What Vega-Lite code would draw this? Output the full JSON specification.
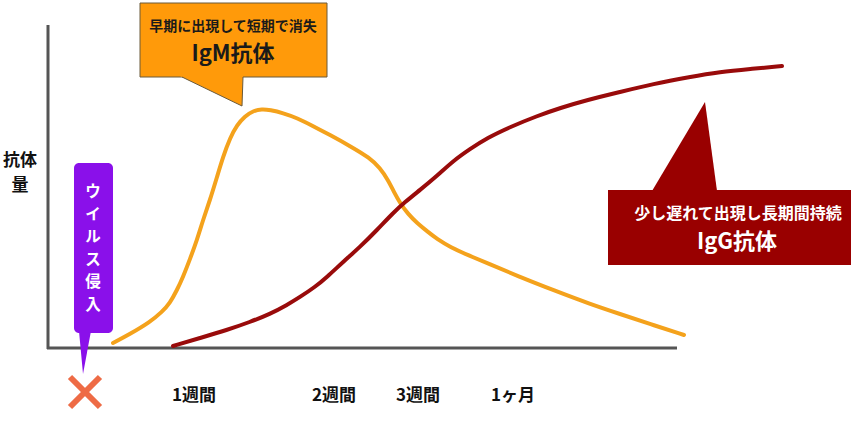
{
  "$schema": "https://vega.github.io/schema/vega-lite/v6.json",
  "width": 864,
  "height": 422,
  "autosize": {"type": "fit", "contains": "padding"},
  "padding": 0,
  "background": "white",
  "config": {"view": {"stroke": null}},
  "datasets": {
    "axes": [
      {"x1": 48, "y1": 25, "x2": 48, "y2": 349},
      {"x1": 47, "y1": 348, "x2": 677, "y2": 348}
    ],
    "igm": [
      {"x": 113, "y": 343}, {"x": 130, "y": 334}, {"x": 150, "y": 322}, {"x": 162, "y": 312},
      {"x": 170, "y": 303}, {"x": 177, "y": 290}, {"x": 183, "y": 277}, {"x": 190, "y": 259},
      {"x": 197, "y": 240}, {"x": 203, "y": 220}, {"x": 210, "y": 200}, {"x": 217, "y": 177},
      {"x": 223, "y": 157}, {"x": 230, "y": 138}, {"x": 237, "y": 125}, {"x": 245, "y": 116},
      {"x": 253, "y": 111}, {"x": 262, "y": 109}, {"x": 270, "y": 110}, {"x": 283, "y": 113},
      {"x": 297, "y": 118}, {"x": 313, "y": 126}, {"x": 330, "y": 135}, {"x": 350, "y": 146},
      {"x": 370, "y": 158}, {"x": 380, "y": 168}, {"x": 388, "y": 180}, {"x": 394, "y": 192},
      {"x": 400, "y": 203}, {"x": 408, "y": 214}, {"x": 417, "y": 223}, {"x": 428, "y": 232},
      {"x": 437, "y": 239}, {"x": 450, "y": 247}, {"x": 470, "y": 256}, {"x": 487, "y": 263},
      {"x": 520, "y": 277}, {"x": 553, "y": 290}, {"x": 590, "y": 304}, {"x": 620, "y": 314},
      {"x": 650, "y": 324}, {"x": 684, "y": 335}
    ],
    "igg": [
      {"x": 173, "y": 346}, {"x": 200, "y": 338}, {"x": 227, "y": 330}, {"x": 250, "y": 322},
      {"x": 270, "y": 314}, {"x": 287, "y": 305}, {"x": 300, "y": 297}, {"x": 315, "y": 287},
      {"x": 327, "y": 277}, {"x": 343, "y": 262}, {"x": 360, "y": 247}, {"x": 377, "y": 230},
      {"x": 393, "y": 213}, {"x": 405, "y": 202}, {"x": 420, "y": 190}, {"x": 437, "y": 176},
      {"x": 453, "y": 161}, {"x": 470, "y": 149}, {"x": 487, "y": 138}, {"x": 510, "y": 127},
      {"x": 537, "y": 116}, {"x": 560, "y": 108}, {"x": 587, "y": 100}, {"x": 620, "y": 92},
      {"x": 653, "y": 84}, {"x": 690, "y": 77}, {"x": 720, "y": 72}, {"x": 750, "y": 69},
      {"x": 782, "y": 66}
    ]
  },
  "layer": [
    {
      "data": {"name": "axes"},
      "mark": {"type": "rule", "color": "#555555", "strokeWidth": 3},
      "encoding": {
        "x": {"field": "x1", "type": "quantitative", "scale": {"domain": [0, 864], "nice": false, "zero": false}, "axis": null},
        "x2": {"field": "x2"},
        "y": {"field": "y1", "type": "quantitative", "scale": {"domain": [0, 422], "nice": false, "zero": false, "reverse": true}, "axis": null},
        "y2": {"field": "y2"}
      }
    },
    {
      "data": {"name": "igm"},
      "mark": {"type": "line", "color": "#F4A21C", "strokeWidth": 4, "interpolate": "basis", "strokeCap": "round"},
      "encoding": {
        "x": {"field": "x", "type": "quantitative", "scale": {"domain": [0, 864], "nice": false, "zero": false}, "axis": null},
        "y": {"field": "y", "type": "quantitative", "scale": {"domain": [0, 422], "nice": false, "zero": false, "reverse": true}, "axis": null}
      }
    },
    {
      "data": {"name": "igg"},
      "mark": {"type": "line", "color": "#990B0B", "strokeWidth": 4, "interpolate": "basis", "strokeCap": "round"},
      "encoding": {
        "x": {"field": "x", "type": "quantitative", "scale": {"domain": [0, 864], "nice": false, "zero": false}, "axis": null},
        "y": {"field": "y", "type": "quantitative", "scale": {"domain": [0, 422], "nice": false, "zero": false, "reverse": true}, "axis": null}
      }
    },
    {
      "data": {"values": [{"x1": 140, "x2": 327, "y1": 3, "y2": 77}]},
      "mark": {"type": "rect", "fill": "#FF9A0A", "stroke": "#6b5a3a", "strokeWidth": 1},
      "encoding": {
        "x": {"field": "x1", "type": "quantitative", "scale": {"domain": [0, 864], "nice": false, "zero": false}, "axis": null},
        "x2": {"field": "x2"},
        "y": {"field": "y1", "type": "quantitative", "scale": {"domain": [0, 422], "nice": false, "zero": false, "reverse": true}, "axis": null},
        "y2": {"field": "y2"}
      }
    },
    {
      "data": {"values": [{"y": 76, "xl": 180, "xr": 243}, {"y": 106, "xl": 242, "xr": 242}]},
      "mark": {"type": "area", "orient": "horizontal", "fill": "#FF9A0A"},
      "encoding": {
        "y": {"field": "y", "type": "quantitative", "scale": {"domain": [0, 422], "nice": false, "zero": false, "reverse": true}, "axis": null},
        "x": {"field": "xl", "type": "quantitative", "scale": {"domain": [0, 864], "nice": false, "zero": false}, "axis": null},
        "x2": {"field": "xr"}
      }
    },
    {
      "data": {"values": [{"o": 1, "x": 182, "y": 77}, {"o": 2, "x": 242, "y": 106}, {"o": 3, "x": 243, "y": 77}]},
      "mark": {"type": "line", "color": "#6b5a3a", "strokeWidth": 1},
      "encoding": {
        "x": {"field": "x", "type": "quantitative", "scale": {"domain": [0, 864], "nice": false, "zero": false}, "axis": null},
        "y": {"field": "y", "type": "quantitative", "scale": {"domain": [0, 422], "nice": false, "zero": false, "reverse": true}, "axis": null},
        "order": {"field": "o", "type": "quantitative"}
      }
    },
    {
      "data": {"values": [{"x": 233, "y": 27, "label": "早期に出現して短期で消失"}]},
      "mark": {"type": "text", "font": "Noto Sans CJK JP", "fontWeight": "bold", "fontSize": 14, "color": "#1a1a1a", "align": "center", "baseline": "middle"},
      "encoding": {
        "x": {"field": "x", "type": "quantitative", "scale": {"domain": [0, 864], "nice": false, "zero": false}, "axis": null},
        "y": {"field": "y", "type": "quantitative", "scale": {"domain": [0, 422], "nice": false, "zero": false, "reverse": true}, "axis": null},
        "text": {"field": "label"}
      }
    },
    {
      "data": {"values": [{"x": 233, "y": 54, "label": "IgM抗体"}]},
      "mark": {"type": "text", "font": "Noto Sans CJK JP", "fontWeight": "bold", "fontSize": 22, "color": "#1a1a1a", "align": "center", "baseline": "middle"},
      "encoding": {
        "x": {"field": "x", "type": "quantitative", "scale": {"domain": [0, 864], "nice": false, "zero": false}, "axis": null},
        "y": {"field": "y", "type": "quantitative", "scale": {"domain": [0, 422], "nice": false, "zero": false, "reverse": true}, "axis": null},
        "text": {"field": "label"}
      }
    },
    {
      "data": {"values": [{"x1": 608, "x2": 851, "y1": 190, "y2": 265}]},
      "mark": {"type": "rect", "fill": "#990000"},
      "encoding": {
        "x": {"field": "x1", "type": "quantitative", "scale": {"domain": [0, 864], "nice": false, "zero": false}, "axis": null},
        "x2": {"field": "x2"},
        "y": {"field": "y1", "type": "quantitative", "scale": {"domain": [0, 422], "nice": false, "zero": false, "reverse": true}, "axis": null},
        "y2": {"field": "y2"}
      }
    },
    {
      "data": {"values": [{"y": 102, "xl": 705, "xr": 705}, {"y": 191, "xl": 652, "xr": 717}]},
      "mark": {"type": "area", "orient": "horizontal", "fill": "#990000"},
      "encoding": {
        "y": {"field": "y", "type": "quantitative", "scale": {"domain": [0, 422], "nice": false, "zero": false, "reverse": true}, "axis": null},
        "x": {"field": "xl", "type": "quantitative", "scale": {"domain": [0, 864], "nice": false, "zero": false}, "axis": null},
        "x2": {"field": "xr"}
      }
    },
    {
      "data": {"values": [{"x": 738, "y": 214, "label": "少し遅れて出現し長期間持続"}]},
      "mark": {"type": "text", "font": "Noto Sans CJK JP", "fontWeight": "bold", "fontSize": 16, "color": "#ffffff", "align": "center", "baseline": "middle"},
      "encoding": {
        "x": {"field": "x", "type": "quantitative", "scale": {"domain": [0, 864], "nice": false, "zero": false}, "axis": null},
        "y": {"field": "y", "type": "quantitative", "scale": {"domain": [0, 422], "nice": false, "zero": false, "reverse": true}, "axis": null},
        "text": {"field": "label"}
      }
    },
    {
      "data": {"values": [{"x": 737, "y": 242, "label": "IgG抗体"}]},
      "mark": {"type": "text", "font": "Noto Sans CJK JP", "fontWeight": "bold", "fontSize": 22, "color": "#ffffff", "align": "center", "baseline": "middle"},
      "encoding": {
        "x": {"field": "x", "type": "quantitative", "scale": {"domain": [0, 864], "nice": false, "zero": false}, "axis": null},
        "y": {"field": "y", "type": "quantitative", "scale": {"domain": [0, 422], "nice": false, "zero": false, "reverse": true}, "axis": null},
        "text": {"field": "label"}
      }
    },
    {
      "data": {"values": [{"x1": 74, "x2": 113, "y1": 163, "y2": 333}]},
      "mark": {"type": "rect", "fill": "#8A10EA", "cornerRadius": 5},
      "encoding": {
        "x": {"field": "x1", "type": "quantitative", "scale": {"domain": [0, 864], "nice": false, "zero": false}, "axis": null},
        "x2": {"field": "x2"},
        "y": {"field": "y1", "type": "quantitative", "scale": {"domain": [0, 422], "nice": false, "zero": false, "reverse": true}, "axis": null},
        "y2": {"field": "y2"}
      }
    },
    {
      "data": {"values": [{"y": 331, "xl": 79, "xr": 91}, {"y": 374, "xl": 83, "xr": 83}]},
      "mark": {"type": "area", "orient": "horizontal", "fill": "#8A10EA"},
      "encoding": {
        "y": {"field": "y", "type": "quantitative", "scale": {"domain": [0, 422], "nice": false, "zero": false, "reverse": true}, "axis": null},
        "x": {"field": "xl", "type": "quantitative", "scale": {"domain": [0, 864], "nice": false, "zero": false}, "axis": null},
        "x2": {"field": "xr"}
      }
    },
    {
      "data": {"values": [
        {"x": 93, "y": 192, "label": "ウ"},
        {"x": 93, "y": 214.5, "label": "イ"},
        {"x": 93, "y": 237, "label": "ル"},
        {"x": 93, "y": 259.5, "label": "ス"},
        {"x": 93, "y": 282, "label": "侵"},
        {"x": 93, "y": 304.5, "label": "入"}
      ]},
      "mark": {"type": "text", "font": "Noto Sans CJK JP", "fontWeight": "bold", "fontSize": 15.5, "color": "#ffffff", "align": "center", "baseline": "middle"},
      "encoding": {
        "x": {"field": "x", "type": "quantitative", "scale": {"domain": [0, 864], "nice": false, "zero": false}, "axis": null},
        "y": {"field": "y", "type": "quantitative", "scale": {"domain": [0, 422], "nice": false, "zero": false, "reverse": true}, "axis": null},
        "text": {"field": "label"}
      }
    },
    {
      "data": {"values": [{"x": 85, "y": 392}]},
      "mark": {"type": "point", "shape": "M-1,-1L1,1M1,-1L-1,1", "size": 900, "filled": false, "stroke": "#EE6B45", "strokeWidth": 6, "opacity": 1},
      "encoding": {
        "x": {"field": "x", "type": "quantitative", "scale": {"domain": [0, 864], "nice": false, "zero": false}, "axis": null},
        "y": {"field": "y", "type": "quantitative", "scale": {"domain": [0, 422], "nice": false, "zero": false, "reverse": true}, "axis": null}
      }
    },
    {
      "data": {"values": [
        {"x": 194, "y": 396, "label": "1週間"},
        {"x": 334, "y": 396, "label": "2週間"},
        {"x": 418, "y": 396, "label": "3週間"},
        {"x": 513, "y": 396, "label": "1ヶ月"},
        {"x": 20, "y": 161, "label": "抗体"},
        {"x": 20, "y": 186, "label": "量"}
      ]},
      "mark": {"type": "text", "font": "Noto Sans CJK JP", "fontWeight": "bold", "fontSize": 17, "color": "#111111", "align": "center", "baseline": "middle"},
      "encoding": {
        "x": {"field": "x", "type": "quantitative", "scale": {"domain": [0, 864], "nice": false, "zero": false}, "axis": null},
        "y": {"field": "y", "type": "quantitative", "scale": {"domain": [0, 422], "nice": false, "zero": false, "reverse": true}, "axis": null},
        "text": {"field": "label"}
      }
    }
  ]
}
